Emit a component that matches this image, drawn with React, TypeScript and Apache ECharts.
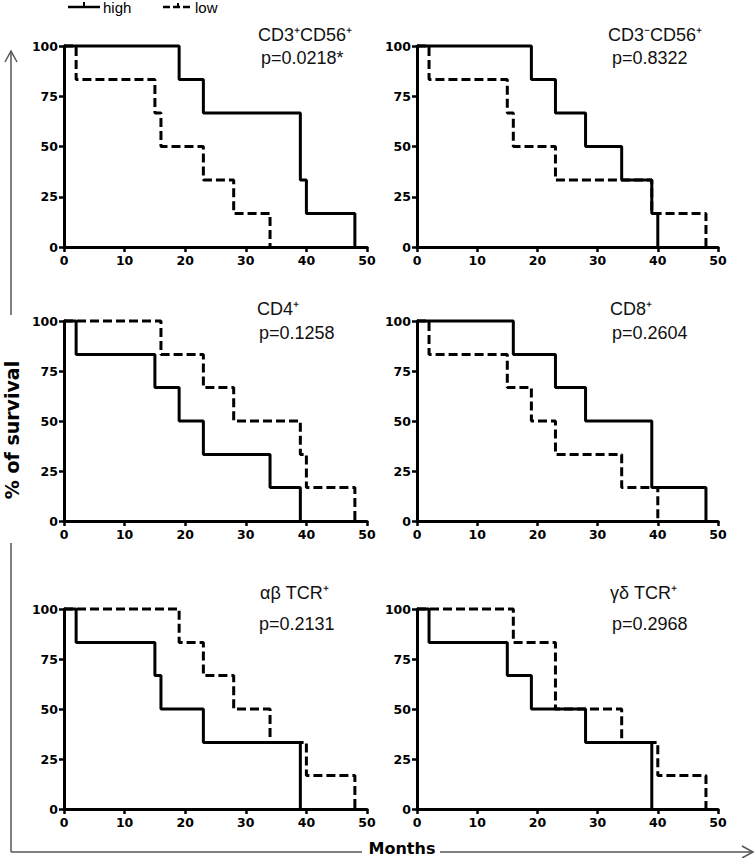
import React, { useEffect, useRef } from "react";
import * as echarts from "echarts";

// ---- data ----
const panelTitles = ["CD3⁺CD56⁺", "CD3⁻CD56⁺", "CD4⁺", "CD8⁺", "αβ TCR⁺", "γδ TCR⁺"];
const pValues = ["p=0.0218*", "p=0.8322", "p=0.1258", "p=0.2604", "p=0.2131", "p=0.2968"];
const legendNames = ["high", "low"];
const yAxisName = "% of survival";
const xAxisName = "Months";

// Kaplan-Meier steps: months at which survival changes, and survival (%) after each step
const cd3cd56HighMonths = [0, 19, 23, 39, 40, 48];
const cd3cd56HighSurv = [100, 83.3, 66.7, 33.3, 16.7, 0];
const cd3cd56LowMonths = [0, 2, 15, 16, 23, 28, 34];
const cd3cd56LowSurv = [100, 83.3, 66.7, 50, 33.3, 16.7, 0];

const nkHighMonths = [0, 19, 23, 28, 34, 39, 40];
const nkHighSurv = [100, 83.3, 66.7, 50, 33.3, 16.7, 0];
const nkLowMonths = [0, 2, 15, 16, 23, 39, 48];
const nkLowSurv = [100, 83.3, 66.7, 50, 33.3, 16.7, 0];

const cd4HighMonths = [0, 2, 15, 19, 23, 34, 39];
const cd4HighSurv = [100, 83.3, 66.7, 50, 33.3, 16.7, 0];
const cd4LowMonths = [0, 16, 23, 28, 39, 40, 48];
const cd4LowSurv = [100, 83.3, 66.7, 50, 33.3, 16.7, 0];

const cd8HighMonths = [0, 16, 23, 28, 39, 48];
const cd8HighSurv = [100, 83.3, 66.7, 50, 16.7, 0];
const cd8LowMonths = [0, 2, 15, 19, 23, 34, 40];
const cd8LowSurv = [100, 83.3, 66.7, 50, 33.3, 16.7, 0];

const abHighMonths = [0, 2, 15, 16, 23, 39];
const abHighSurv = [100, 83.3, 66.7, 50, 33.3, 0];
const abLowMonths = [0, 19, 23, 28, 34, 40, 48];
const abLowSurv = [100, 83.3, 66.7, 50, 33.3, 16.7, 0];

const gdHighMonths = [0, 2, 15, 19, 28, 39];
const gdHighSurv = [100, 83.3, 66.7, 50, 33.3, 0];
const gdLowMonths = [0, 16, 23, 34, 40, 48];
const gdLowSurv = [100, 83.3, 50, 33.3, 16.7, 0];

const highSets = [
  [cd3cd56HighMonths, cd3cd56HighSurv],
  [nkHighMonths, nkHighSurv],
  [cd4HighMonths, cd4HighSurv],
  [cd8HighMonths, cd8HighSurv],
  [abHighMonths, abHighSurv],
  [gdHighMonths, gdHighSurv],
];
const lowSets = [
  [cd3cd56LowMonths, cd3cd56LowSurv],
  [nkLowMonths, nkLowSurv],
  [cd4LowMonths, cd4LowSurv],
  [cd8LowMonths, cd8LowSurv],
  [abLowMonths, abLowSurv],
  [gdLowMonths, gdLowSurv],
];

// ---- layout ----
const gridRects = [
  { left: 64, top: 46, width: 303, height: 201 },
  { left: 417, top: 46, width: 301, height: 201 },
  { left: 64, top: 321, width: 303, height: 200 },
  { left: 417, top: 321, width: 301, height: 200 },
  { left: 64, top: 609, width: 303, height: 200 },
  { left: 417, top: 609, width: 301, height: 200 },
];
const titlePos = [
  { tx: 258, ty: 35, px: 261, py: 58 },
  { tx: 608, ty: 35, px: 612, py: 58 },
  { tx: 257, ty: 309, px: 259, py: 333 },
  { tx: 610, ty: 309, px: 612, py: 333 },
  { tx: 260, ty: 593, px: 259, py: 624 },
  { tx: 610, ty: 593, px: 612, py: 624 },
];

const toPairs = (m: number[], s: number[]) => m.map((x, i) => [x, s[i]]);

export default function App() {
  const ref = useRef<HTMLDivElement>(null);
  useEffect(() => {
    if (!ref.current) return;
    const chart = echarts.init(ref.current, undefined, { renderer: "svg" });
    const labelStyle = {
      fontFamily: "'DejaVu Sans', Verdana, sans-serif",
      fontWeight: "bold" as const,
      fontSize: 12.5,
      color: "#000",
    };
    const xAxes = gridRects.map((_, i) => ({
      type: "value",
      gridIndex: i,
      min: 0,
      max: 50,
      interval: 10,
      axisLine: { show: true, lineStyle: { color: "#000", width: 3 } },
      axisTick: { show: true, length: 5, lineStyle: { color: "#000", width: 2.5 } },
      axisLabel: { ...labelStyle, margin: 7 },
      splitLine: { show: false },
    }));
    const yAxes = gridRects.map((_, i) => ({
      type: "value",
      gridIndex: i,
      min: 0,
      max: 100,
      interval: 25,
      axisLine: { show: true, lineStyle: { color: "#000", width: 3 } },
      axisTick: { show: true, length: 5, lineStyle: { color: "#000", width: 2.5 } },
      axisLabel: { ...labelStyle, margin: 6 },
      splitLine: { show: false },
    }));
    const series: any[] = [];
    gridRects.forEach((_, i) => {
      series.push({
        type: "line",
        name: legendNames[1],
        xAxisIndex: i,
        yAxisIndex: i,
        step: "end",
        data: toPairs(lowSets[i][0], lowSets[i][1]),
        showSymbol: false,
        symbol: "none",
        clip: false,
        z: 3,
        lineStyle: { color: "#000", width: 3, type: [9, 4] },
      });
      series.push({
        type: "line",
        name: legendNames[0],
        xAxisIndex: i,
        yAxisIndex: i,
        step: "end",
        data: toPairs(highSets[i][0], highSets[i][1]),
        showSymbol: false,
        symbol: "none",
        clip: false,
        z: 4,
        lineStyle: { color: "#000", width: 3, type: "solid" },
      });
    });

    const titleFont = "18px 'Liberation Sans', Arial, sans-serif";
    const graphic: any[] = [];
    titlePos.forEach((p, i) => {
      graphic.push({
        type: "text",
        x: p.tx,
        y: p.ty,
        style: { text: panelTitles[i], font: titleFont, fill: "#111", align: "left", verticalAlign: "middle" },
      });
      graphic.push({
        type: "text",
        x: p.px,
        y: p.py,
        style: { text: pValues[i], font: titleFont, fill: "#111", align: "left", verticalAlign: "middle" },
      });
    });
    const frame = { stroke: "#555", lineWidth: 1.5 };
    graphic.push(
      { type: "line", shape: { x1: 11, y1: 51, x2: 11, y2: 315 }, style: frame },
      { type: "polyline", shape: { points: [[5, 62], [11, 51], [17, 62]] }, style: { ...frame, fill: null } },
      { type: "line", shape: { x1: 11, y1: 543, x2: 11, y2: 852 }, style: frame },
      { type: "line", shape: { x1: 11, y1: 852, x2: 362, y2: 852 }, style: frame },
      { type: "line", shape: { x1: 440, y1: 852, x2: 753, y2: 852 }, style: frame },
      { type: "polyline", shape: { points: [[742, 846], [753, 852], [742, 858]] }, style: { ...frame, fill: null } },
      {
        type: "text",
        x: 12,
        y: 430,
        rotation: Math.PI / 2,
        style: { text: yAxisName, font: "bold 19px 'DejaVu Sans', Verdana, sans-serif", fill: "#000", align: "center", verticalAlign: "middle" },
      },
      {
        type: "text",
        x: 402,
        y: 848,
        style: { text: xAxisName, font: "bold 16px 'DejaVu Sans', Verdana, sans-serif", fill: "#000", align: "center", verticalAlign: "middle" },
      },
      // legend
      { type: "line", shape: { x1: 68, y1: 7, x2: 100, y2: 7 }, style: { stroke: "#000", lineWidth: 2.5 } },
      { type: "line", shape: { x1: 84, y1: 2, x2: 84, y2: 7 }, style: { stroke: "#000", lineWidth: 2 } },
      {
        type: "text",
        x: 103,
        y: 7,
        style: { text: legendNames[0], font: "15px 'Liberation Sans', Arial, sans-serif", fill: "#000", align: "left", verticalAlign: "middle" },
      },
      { type: "line", shape: { x1: 163, y1: 7, x2: 190, y2: 7 }, style: { stroke: "#000", lineWidth: 2.5, lineDash: [7, 3] } },
      { type: "line", shape: { x1: 178, y1: 3, x2: 178, y2: 7 }, style: { stroke: "#000", lineWidth: 2 } },
      {
        type: "text",
        x: 195,
        y: 7,
        style: { text: legendNames[1], font: "15px 'Liberation Sans', Arial, sans-serif", fill: "#000", align: "left", verticalAlign: "middle" },
      }
    );

    chart.setOption({
      animation: false,
      backgroundColor: "#fff",
      grid: gridRects.map((g) => ({ ...g, containLabel: false })),
      xAxis: xAxes,
      yAxis: yAxes,
      series,
      graphic,
    });
    return () => chart.dispose();
  }, []);
  return (
    <div
      ref={ref}
      style={{ position: "absolute", left: 0, top: 0, width: 755, height: 858 }}
    />
  );
}
